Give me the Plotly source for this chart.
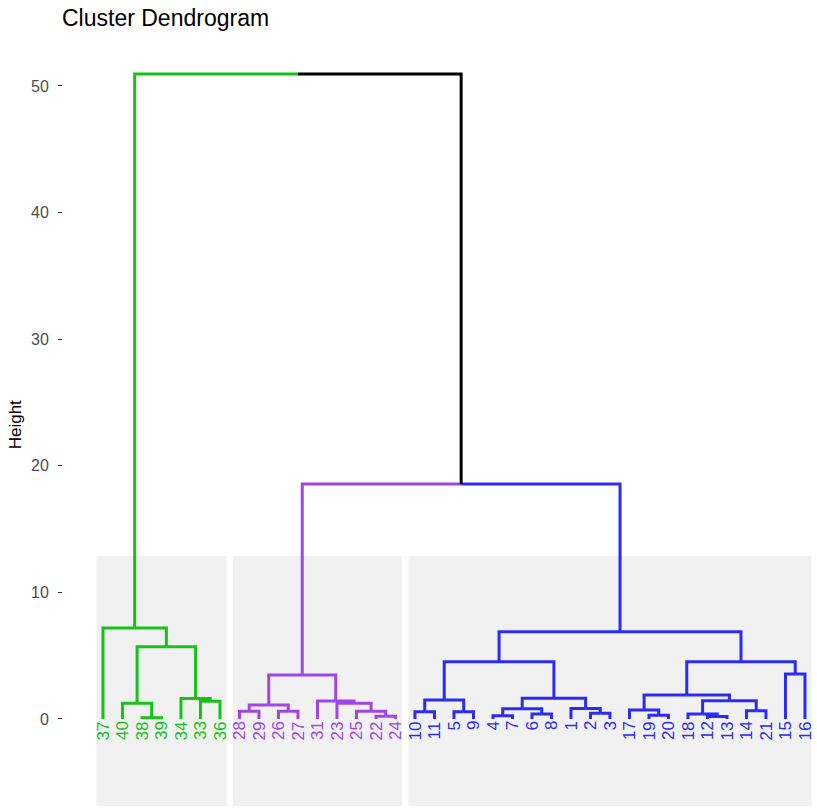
import plotly.graph_objects as go

# ---- data: hierarchical merges (R-style: negative = observation, positive = earlier step) ----
merge_a = [-38, -40, -33, -34, 2, -37,
           -28, -26, 7, -22, -25, -23, -31, 9,
           -10, -5, 15, -4, -6, 18, -2, -1, 20, 17,
           -19, -17, -12, -18, -14, 28, 26, -15, 31, 24, 14, 6]
merge_b = [-39, 1, -36, 3, 4, 5,
           -29, -27, 8, -24, 10, 11, 12, 13,
           -11, -9, 16, -7, -8, 19, -3, 21, 22, 23,
           -20, 25, -13, 27, -21, 29, 30, -16, 32, 33, 34, 35]
merge_h = [0.1, 1.25, 1.4, 1.62, 5.7, 7.18,
           0.62, 0.62, 1.1, 0.22, 0.62, 1.25, 1.42, 3.47,
           0.58, 0.58, 1.5, 0.25, 0.4, 0.8, 0.45, 0.83, 1.63, 4.53,
           0.3, 0.7, 0.2, 0.4, 0.65, 1.45, 1.9, 3.55, 4.52, 6.9, 18.56, 50.95]
n_clusters = 3
cluster_colors = ["#14C314", "#A046E6", "#2B2BF8"]
y_ticks = [0, 10, 20, 30, 40, 50]
title_text = "Cluster Dendrogram"
y_title = "Height"

# ---- layout of tree ----
n_steps = len(merge_h)
order = []


def collect(node):
    if node < 0:
        order.append(-node)
    else:
        collect(merge_a[node - 1])
        collect(merge_b[node - 1])


collect(n_steps)
leaf_pos = {lab: i for i, lab in enumerate(order)}

xpos = {}


def node_x(node):
    if node < 0:
        return leaf_pos[-node]
    if node not in xpos:
        xpos[node] = (node_x(merge_a[node - 1]) + node_x(merge_b[node - 1])) / 2
    return xpos[node]


def node_h(node):
    return 0.0 if node < 0 else merge_h[node - 1]


# cluster roots: children of the top (n_clusters-1) merges that are not themselves top merges
top_steps = set(range(n_steps - n_clusters + 2, n_steps + 1))
roots = []
for s in sorted(top_steps):
    for c in (merge_a[s - 1], merge_b[s - 1]):
        if c not in top_steps:
            roots.append(c)


def leaves_of(node):
    if node < 0:
        return [-node]
    return leaves_of(merge_a[node - 1]) + leaves_of(merge_b[node - 1])


roots.sort(key=lambda r: min(leaf_pos[l] for l in leaves_of(r)))
node_color = {}


def paint(node, col):
    node_color[node] = col
    if node > 0:
        paint(merge_a[node - 1], col)
        paint(merge_b[node - 1], col)


for r, col in zip(roots, cluster_colors):
    paint(r, col)
leaf_color = {lab: node_color[-lab] for lab in order}

segs = {}
for s in range(1, n_steps + 1):
    px = node_x(s)
    ph = merge_h[s - 1]
    for c in (merge_a[s - 1], merge_b[s - 1]):
        col = node_color.get(c, "#000000")
        cx = node_x(c)
        xs, ys = segs.setdefault(col, ([], []))
        xs += [px, cx, cx, None]
        ys += [ph, ph, node_h(c), None]

FONT = "Liberation Sans, Arial, sans-serif"
fig = go.Figure()

# cluster rectangles
for r in roots:
    idx = [leaf_pos[l] for l in leaves_of(r)]
    fig.add_shape(type="rect", x0=min(idx) - 0.34, x1=max(idx) + 0.34, y0=-6.87, y1=12.87,
                  xref="x", yref="y", fillcolor="#F1F1F1", line=dict(width=0), layer="below")

for col, (xs, ys) in segs.items():
    fig.add_trace(go.Scatter(x=xs, y=ys, mode="lines", line=dict(color=col, width=3),
                             hoverinfo="skip", showlegend=False))

for lab in order:
    fig.add_annotation(x=leaf_pos[lab], y=0, yshift=-1, text=str(lab), textangle=-90,
                       xanchor="center", yanchor="top", showarrow=False,
                       font=dict(family=FONT, size=17, color=leaf_color[lab]), borderpad=0)

fig.add_annotation(text=y_title, textangle=-90, xref="paper", yref="paper",
                   x=-0.063, y=0.5, xanchor="center", yanchor="middle", showarrow=False,
                   font=dict(family=FONT, size=17, color="black"))

fig.update_layout(
    width=817, height=809,
    margin=dict(l=63, r=5, t=40, b=0),
    paper_bgcolor="white", plot_bgcolor="white",
    title=dict(text=title_text, x=62 / 817, xanchor="left", xref="container",
               y=1 - 18 / 809, yanchor="middle", yref="container",
               font=dict(family=FONT, size=23, color="black")),
    xaxis=dict(range=[-2.05, 36.36], visible=False, showgrid=False, zeroline=False),
    yaxis=dict(range=[-7.11, 53.63], tickvals=y_ticks, ticks="outside", ticklen=4,
               tickwidth=1.3, tickcolor="#333333", showgrid=False, zeroline=False,
               showline=False, ticklabelstandoff=6,
               tickfont=dict(family=FONT, size=16, color="#4D4D4D")),
)

fig.write_html("out.html", config={"displayModeBar": False},
               post_script="document.body.style.margin='0';document.body.style.overflow='hidden';")
